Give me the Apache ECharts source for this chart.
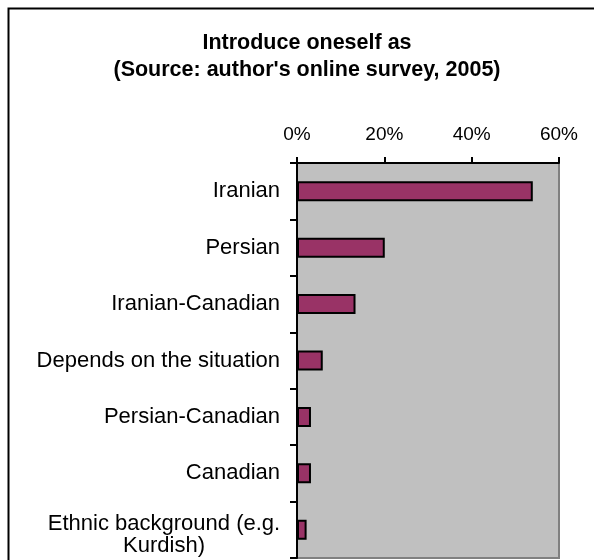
<!DOCTYPE html>
<html>
<head>
<meta charset="utf-8">
<script src="https://cdn.jsdelivr.net/npm/echarts@6/dist/echarts.min.js"></script>
<style>
html,body{margin:0;padding:0;background:#fff;}
#chart{width:594px;height:560px;}
</style>
</head>
<body>
<div id="chart"></div>
<script>
const categories = ['Iranian', 'Persian', 'Iranian-Canadian', 'Depends on the situation', 'Persian-Canadian', 'Canadian', 'Ethnic background (e.g. Kurdish)'];
const values = [0.540, 0.201, 0.134, 0.059, 0.032, 0.032, 0.022];
const xTicks = [0, 0.2, 0.4, 0.6];
const titleLines = ['Introduce oneself as', "(Source: author's online survey, 2005)"];

const FONT = '"Liberation Sans", Arial, sans-serif';
const yData = categories.map(c => c.indexOf('Kurdish') >= 0
  ? {value: c, textStyle: {padding: [10, 0, 0, 0]}}
  : c);

const chart = echarts.init(document.getElementById('chart'));
chart.setOption({
  backgroundColor: '#ffffff',
  animation: false,
  title: {
    text: titleLines.join('\n'),
    left: 302, top: 25, textAlign: 'center',
    textStyle: {fontFamily: FONT, fontSize: 21.5, fontWeight: 'bold', color: '#000', lineHeight: 27}
  },
  graphic: [{
    type: 'rect', left: 6, top: 6, silent: true,
    shape: {width: 700, height: 700},
    style: {fill: 'none', stroke: '#000', lineWidth: 2}
  }],
  grid: {
    left: 297, top: 163, right: 35, bottom: 2,
    show: true, backgroundColor: '#C0C0C0', borderColor: '#808080', borderWidth: 2
  },
  xAxis: {
    type: 'value', position: 'top', min: xTicks[0], max: xTicks[xTicks.length - 1], interval: 0.2,
    axisLine: {show: true, lineStyle: {color: '#000', width: 2}},
    axisTick: {show: true, inside: false, length: 6, lineStyle: {color: '#000', width: 2}},
    splitLine: {show: false},
    axisLabel: {
      margin: 19, fontFamily: FONT, fontSize: 19, color: '#000',
      formatter: v => Math.round(v * 100) + '%'
    }
  },
  yAxis: {
    type: 'category', inverse: true, data: yData,
    axisLine: {show: true, lineStyle: {color: '#000', width: 2}},
    axisTick: {show: true, inside: false, length: 7, lineStyle: {color: '#000', width: 2}},
    axisLabel: {
      interval: 0, margin: 17, fontFamily: FONT, fontSize: 22, color: '#000',
      formatter: function (v) {
        if (v.indexOf('(e.g.') >= 0) {
          const i = v.indexOf(' Kurdish');
          return '{c|' + v.slice(0, i) + '}\n{c|' + v.slice(i + 1) + '}';
        }
        return v;
      },
      rich: {c: {width: 232, align: 'center', fontFamily: FONT, fontSize: 22, lineHeight: 22, color: '#000'}}
    }
  },
  series: [{
    type: 'bar', data: values, barWidth: 20,
    itemStyle: {color: '#993366', borderColor: '#000', borderWidth: 2}
  }]
});
</script>
</body>
</html>
